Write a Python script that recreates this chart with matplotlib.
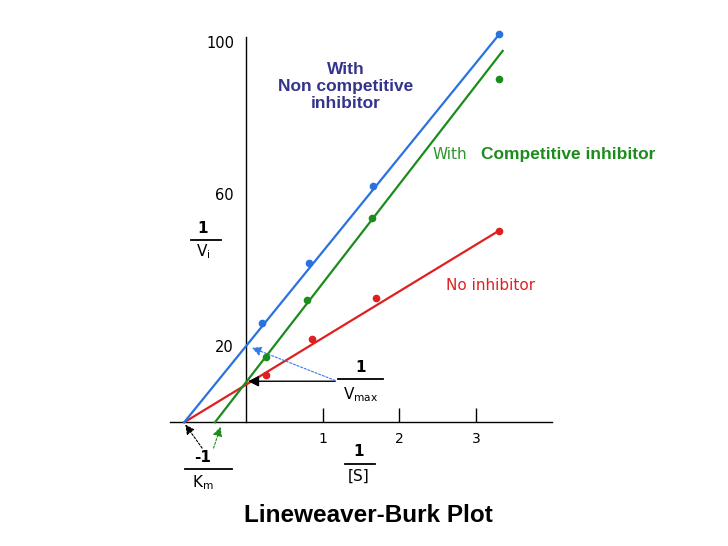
import matplotlib
matplotlib.use('Agg')
import matplotlib.pyplot as plt
import numpy as np

plt.rcParams['font.family'] = ['DejaVu Sans']
plt.rcParams['mathtext.fontset'] = 'dejavusans'

# Lineweaver-Burk data (1/[S] vs 1/Vi)
s_none = [0.255, 0.86, 1.693, 3.305]
v_none = [12.4, 21.9, 32.8, 50.4]
s_comp = [0.255, 0.79, 1.644, 3.305]
v_comp = [17.1, 32.2, 53.7, 90.3]
s_noncomp = [0.199, 0.817, 1.65, 3.305]
v_noncomp = [26.1, 41.8, 62.3, 102.2]

# fitted lines: slope, intercept, where the drawn line stops
fit_slope = [12.26, 26.0, 24.8]
fit_icept = [9.97, 10.7, 20.2]
fit_xend = [3.314, 3.349, 3.305]
colors = ['#e02020', '#1c8c1c', '#2a72e0']

x_ticks = [1, 2, 3]
y_ticks = [20, 60, 100]

fig = plt.figure(figsize=(7.28, 5.46), dpi=100)
ax = fig.add_axes([0.2335, 0.2266, 0.5254, 0.7062])
ax.set_xlim(-1, 4)
ax.set_ylim(0, 101.5)

for xs, ys, m, b, xe, c in zip([s_none, s_comp, s_noncomp],
                               [v_none, v_comp, v_noncomp],
                               fit_slope, fit_icept, fit_xend, colors):
    x0 = -b / m
    xl = np.array([x0, xe])
    ax.plot(xl, m * xl + b, color=c, lw=1.6, clip_on=False, zorder=3)
    ax.plot(xs, ys, 'o', color=c, ms=4.5, clip_on=False, zorder=4)

# axes through the origin
for side in ['top', 'right']:
    ax.spines[side].set_visible(False)
ax.spines['left'].set_position(('data', 0))
ax.spines['left'].set_linewidth(1.0)
ax.spines['bottom'].set_linewidth(1.0)
ax.set_xticks(x_ticks)
ax.set_xticklabels([str(t) for t in x_ticks])
ax.set_yticks(y_ticks)
ax.set_yticklabels([str(t) for t in y_ticks])
ax.tick_params(axis='x', direction='in', length=10, width=1, pad=7, labelsize=10)
ax.tick_params(axis='y', length=0, pad=9, labelsize=10.5)

def fraction(x, ytop, ybar, ybot, x1, x2, top, bottom, size=11):
    ax.text(x, ytop, top, ha='center', va='center', fontsize=size,
            fontweight='bold', clip_on=False)
    ax.plot([x1, x2], [ybar, ybar], color='black', lw=1.3, clip_on=False)
    ax.text(x, ybot, bottom, ha='center', va='center', fontsize=size,
            clip_on=False)

fraction(-0.57, 51.1, 48.0, 44.9, -0.72, -0.33, '1', r'$\mathregular{V_i}$')
fraction(1.49, 14.3, 11.4, 7.2, 1.20, 1.79, '1', r'$\mathregular{V_{max}}$')
fraction(-0.57, -9.2, -12.3, -15.8, -0.80, -0.19, '-1', r'$\mathregular{K_m}$')
fraction(1.47, -7.8, -10.9, -14.3, 1.29, 1.68, '1', '[S]')

# arrows
ax.annotate('', xy=(0.02, 10.8), xytext=(1.16, 10.8),
            arrowprops=dict(arrowstyle='-|>', color='black', lw=1.0,
                            mutation_scale=16, shrinkA=0, shrinkB=0),
            annotation_clip=False)
ax.annotate('', xy=(0.07, 19.6), xytext=(1.16, 11.0),
            arrowprops=dict(arrowstyle='-|>', color='#3a7ae8', lw=0.8,
                            ls=(0, (2, 1.5)), mutation_scale=14,
                            shrinkA=0, shrinkB=0),
            annotation_clip=False)
ax.annotate('', xy=(-0.80, -0.6), xytext=(-0.58, -6.8),
            arrowprops=dict(arrowstyle='-|>', color='black', lw=0.8,
                            ls=(0, (2, 1.5)), mutation_scale=14,
                            shrinkA=0, shrinkB=0),
            annotation_clip=False)
ax.annotate('', xy=(-0.34, -1.2), xytext=(-0.43, -6.8),
            arrowprops=dict(arrowstyle='-|>', color='#1c8c1c', lw=0.8,
                            ls=(0, (2, 1.5)), mutation_scale=14,
                            shrinkA=0, shrinkB=0),
            annotation_clip=False)

# labels
ax.text(1.30, 88.4, 'With\nNon competitive\ninhibitor', ha='center', va='center',
        fontsize=12.5, fontweight='bold', color='#34348f',
        family='Liberation Sans', linespacing=1.15)
ax.text(2.66, 70.4, 'With', ha='center', va='center', fontsize=11,
        color='#2a962a')
ax.text(3.07, 70.4, 'Competitive inhibitor', ha='left', va='center',
        fontsize=12.5, fontweight='bold', color='#1c8c1c',
        family='Liberation Sans', clip_on=False)
ax.text(3.19, 35.9, 'No inhibitor', ha='center', va='center', fontsize=11,
        color='#e02020', clip_on=False)

fig.text(0.5055, 0.055, 'Lineweaver-Burk Plot', ha='center', va='center',
         fontsize=17.5, fontweight='bold', family='Liberation Sans')

fig.savefig('out.png', dpi=100)
